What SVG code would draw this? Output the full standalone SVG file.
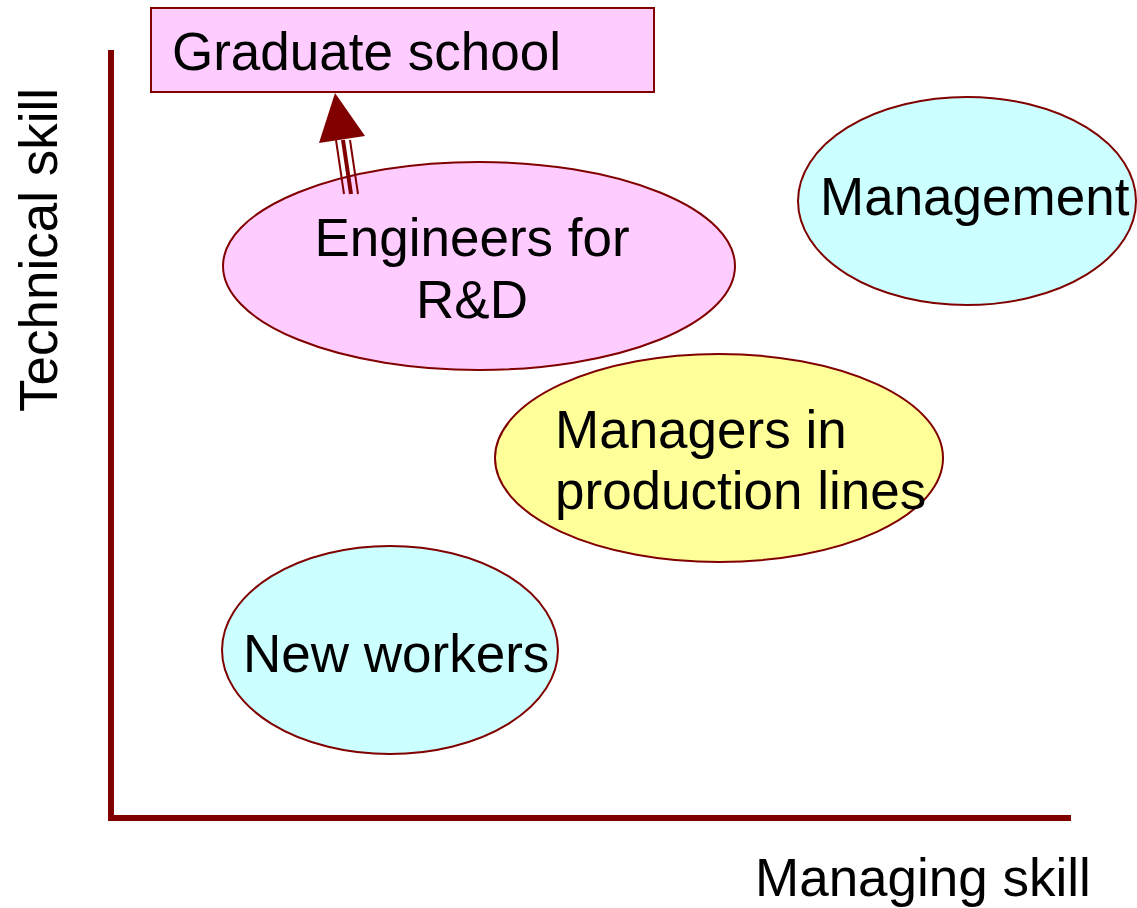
<svg xmlns="http://www.w3.org/2000/svg" width="1137" height="908" viewBox="0 0 1137 908">
<style>
text{font-family:"Liberation Sans",Arial,sans-serif;font-size:53px;fill:#000}
.n{stroke:#800000;stroke-width:2}
.ax{stroke:#800000;stroke-width:6;fill:none}
</style>
<rect width="1137" height="908" fill="#fff"/>
<g id="axes">
<path class="ax" d="M111,50 V818 H1071"/>
<text x="755" y="896">Managing skill</text>
<text transform="translate(57,412) rotate(-90)">Technical skill</text>
</g>
<g id="graduate">
<rect class="n" x="151" y="8" width="503" height="84" fill="#FFCCFF"/>
<text x="172" y="70">Graduate school</text>
</g>
<g id="engineers">
<ellipse class="n" cx="479" cy="266" rx="256" ry="104" fill="#FFCCFF"/>
<text x="472" y="256" text-anchor="middle">Engineers for</text>
<text x="472" y="318" text-anchor="middle">R&amp;D</text>
</g>
<g id="management">
<ellipse class="n" cx="967" cy="201" rx="169" ry="104" fill="#CCFFFF"/>
<text x="820" y="215">Management</text>
</g>
<g id="managers">
<ellipse class="n" cx="719" cy="458" rx="224" ry="104" fill="#FFFF99"/>
<text x="555" y="448">Managers in</text>
<text x="555" y="509">production lines</text>
</g>
<g id="newworkers">
<ellipse class="n" cx="390" cy="650" rx="168" ry="104" fill="#CCFFFF"/>
<text x="243" y="672">New workers</text>
</g>
<g id="connectors">
<line x1="344" y1="194" x2="336" y2="140" stroke="#800000" stroke-width="2"/>
<line x1="351" y1="194" x2="343" y2="140" stroke="#800000" stroke-width="4"/>
<line x1="358" y1="194" x2="350" y2="140" stroke="#800000" stroke-width="2"/>
<polygon points="335,93 319,143 365,136" fill="#800000"/>
</g>
</svg>
